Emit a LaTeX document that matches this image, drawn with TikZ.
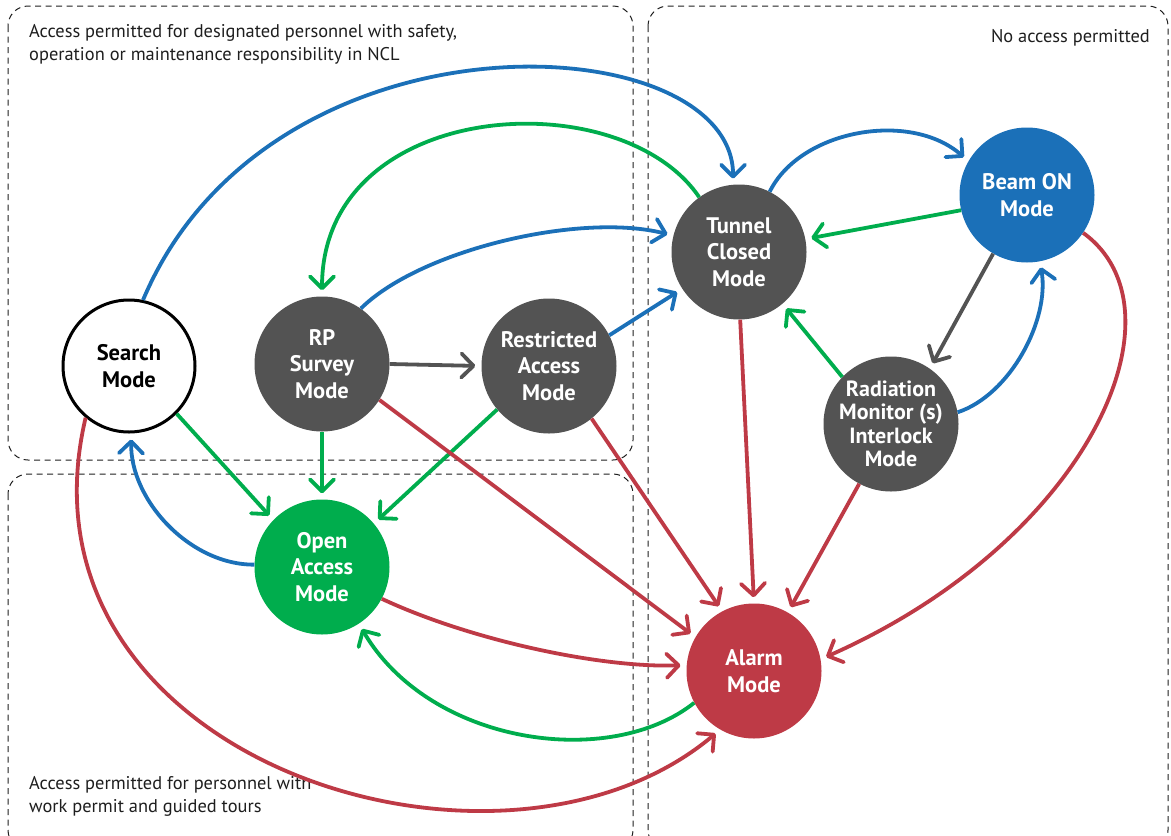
\documentclass[tikz,border=0pt]{standalone}
\usepackage{fontspec}
\setmainfont{PT Sans}
\usetikzlibrary{arrows.meta}
\definecolor{modegrey}{RGB}{83,83,83}
\definecolor{modeblue}{RGB}{27,112,184}
\definecolor{modegreen}{RGB}{0,173,77}
\definecolor{modered}{RGB}{190,58,70}
\definecolor{zonegrey}{RGB}{30,30,30}
\begin{document}
\begin{tikzpicture}[x=1pt,y=-1pt,
  mode/.style={circle, minimum size=135pt, inner sep=0pt, align=center,
    text=white, font=\fontsize{22.5}{26.5}\selectfont\bfseries},
  zone/.style={draw=zonegrey, line width=1pt, dash pattern=on 6pt off 4.5pt,
    rounded corners=20pt},
  zonetext/.style={font=\fontsize{18.4}{22.5}\selectfont, text=zonegrey,
    inner sep=0pt, align=left},
  link/.style={line width=3.8pt, shorten >=6pt,
    -{Straight Barb[length=12pt,width=24pt,round]}},
]
\useasboundingbox (0,0) rectangle (1171,836);

% access zones
\draw[zone] (8,6) rectangle (633,460);
\draw[zone] (8,474) rectangle (633,850);
\draw[zone] (648,6) rectangle (1168,850);

\node[zonetext, anchor=base west] (zoneA) at (29,60)
  {Access permitted for designated personnel with safety,\\operation or maintenance responsibility in NCL};
\node[zonetext, anchor=base east] (zoneC) at (1150,42) {No access permitted};
\node[zonetext, anchor=base west] (zoneB) at (29,812)
  {Access permitted for personnel with\\work permit and guided tours};

% operating modes
\node[mode, fill=white, draw=black, line width=3pt, text=black, minimum size=132pt]
  (search) at (129,366) {Search\\Mode};
\node[mode, fill=modegrey] (rp) at (322,364) {RP\\Survey\\Mode};
\node[mode, fill=modegrey] (ra) at (549,366) {Restricted\\Access\\Mode};
\node[mode, fill=modegrey] (tc) at (739,252) {Tunnel\\Closed\\Mode};
\node[mode, fill=modeblue] (beam) at (1027,195) {Beam ON\\Mode};
\node[mode, fill=modegrey, font=\fontsize{22}{23.5}\selectfont\bfseries]
  (rm) at (891,424) {Radiation\\Monitor (s)\\Interlock\\Mode};
\node[mode, fill=modegreen] (oa) at (322,567) {Open\\Access\\Mode};
\node[mode, fill=modered] (alarm) at (754,671) {Alarm\\Mode};

% blue transitions
\draw[link, modeblue] (search.78) .. controls (270,0) and (733,25) .. (tc.95);
\draw[link, modeblue] (rp.55) .. controls (420,250) and (580,212) .. (tc.166);
\draw[link, modeblue] (ra.27) -- (tc.213);
\draw[link, modeblue] (tc.63) .. controls (800,130) and (910,110) .. (beam.150);
\draw[link, modeblue] (rm.10) .. controls (1010,395) and (1050,320) .. (beam.281);
\draw[link, modeblue] (oa.178) .. controls (190,565) and (130,500) .. (search.272);

% green transitions
\draw[link, modegreen] (tc.126) .. controls (620,80) and (322,98) .. (rp.90);
\draw[link, modegreen] (beam.193) -- (tc.11);
\draw[link, modegreen] (rm.136) -- (tc.-50);
\draw[link, modegreen] (search.-45) -- (oa.136);
\draw[link, modegreen] (rp.270) -- (oa.90);
\draw[link, modegreen] (ra.220) -- (oa.40);
\draw[link, modegreen] (alarm.208) .. controls (610,770) and (430,745) .. (oa.-57);

% grey transitions
\draw[link, modegrey] (rp.0) -- (ra.180);
\draw[link, modegrey] (beam.240) -- (rm.55);

% red transitions
\draw[link, modered] (search.230) .. controls (5,760) and (500,915) .. (alarm.240);
\draw[link, modered] (rp.-32) -- (alarm.150);
\draw[link, modered] (ra.-51) -- (alarm.118);
\draw[link, modered] (tc.271) -- (alarm.90);
\draw[link, modered] (rm.242) -- (alarm.60);
\draw[link, modered] (beam.-34) .. controls (1190,310) and (1090,540) .. (alarm.10);
\draw[link, modered] (oa.-28) .. controls (470,640) and (600,668) .. (alarm.175);
\end{tikzpicture}
\end{document}
